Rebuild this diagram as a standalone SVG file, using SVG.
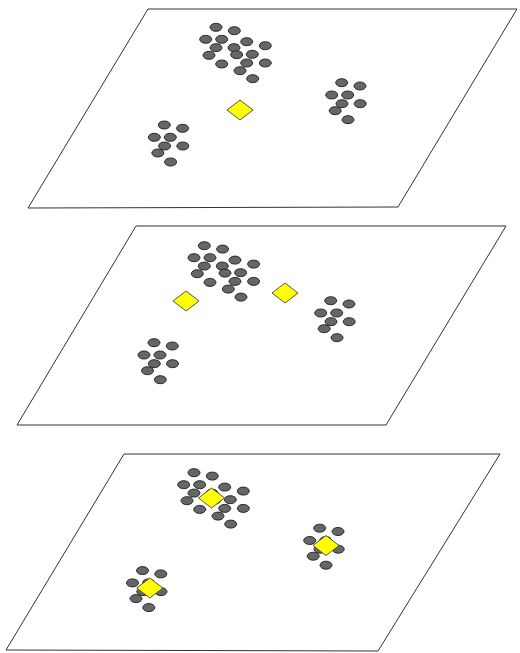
<svg xmlns="http://www.w3.org/2000/svg" xmlns:xlink="http://www.w3.org/1999/xlink" width="520" height="653" viewBox="0 0 520 653">
  <style>
    .plane { fill: #ffffff; stroke: #333333; stroke-width: 1; }
    .dot { fill: #666666; stroke: #2a2a2a; stroke-width: 1; }
    .hub { fill: #ffff00; stroke: #555555; stroke-width: 1; }
  </style>
  <defs>
    <!-- large cluster, 16 points -->
    <g id="clusterLarge">
      <ellipse class="dot" cx="216" cy="27.3" rx="6" ry="4"/>
      <ellipse class="dot" cx="234.3" cy="30.7" rx="6" ry="4"/>
      <ellipse class="dot" cx="205.7" cy="39.3" rx="6" ry="4"/>
      <ellipse class="dot" cx="221.7" cy="39.3" rx="6" ry="4"/>
      <ellipse class="dot" cx="246.7" cy="41.7" rx="6" ry="4"/>
      <ellipse class="dot" cx="265.3" cy="45.7" rx="6" ry="4"/>
      <ellipse class="dot" cx="216" cy="47.7" rx="6" ry="4"/>
      <ellipse class="dot" cx="234" cy="47.7" rx="6" ry="4"/>
      <ellipse class="dot" cx="209" cy="55.3" rx="6" ry="4"/>
      <ellipse class="dot" cx="236.7" cy="54.7" rx="6" ry="4"/>
      <ellipse class="dot" cx="252.3" cy="54.3" rx="6" ry="4"/>
      <ellipse class="dot" cx="246.7" cy="63" rx="6" ry="4"/>
      <ellipse class="dot" cx="265.3" cy="63" rx="6" ry="4"/>
      <ellipse class="dot" cx="221.7" cy="64" rx="6" ry="4"/>
      <ellipse class="dot" cx="240" cy="70.7" rx="6" ry="4"/>
      <ellipse class="dot" cx="252.7" cy="78.7" rx="6" ry="4"/>
    </g>
    <!-- small cluster, 8 points, origin at its top point -->
    <g id="clusterSmall">
      <ellipse class="dot" cx="0" cy="0" rx="6" ry="4"/>
      <ellipse class="dot" cx="18.3" cy="3.3" rx="6" ry="4"/>
      <ellipse class="dot" cx="-10" cy="12.3" rx="6" ry="4"/>
      <ellipse class="dot" cx="6" cy="12.3" rx="6" ry="4"/>
      <ellipse class="dot" cx="0.3" cy="21" rx="6" ry="4"/>
      <ellipse class="dot" cx="18.5" cy="21" rx="6" ry="4"/>
      <ellipse class="dot" cx="-6.5" cy="28" rx="6" ry="4"/>
      <ellipse class="dot" cx="6.3" cy="37" rx="6" ry="4"/>
    </g>
    <!-- centroid marker -->
    <polygon id="diamond" class="hub" points="0,-10 13,0 0,10 -13,0"/>
  </defs>

  <!-- layer 1 -->
  <g id="layer1">
    <polygon class="plane" points="148,9 517,9 398,207 28,208"/>
    <use xlink:href="#clusterLarge"/>
    <use xlink:href="#clusterSmall" x="341.7" y="82.7"/>
    <use xlink:href="#clusterSmall" x="164.3" y="125"/>
    <use xlink:href="#diamond" x="240" y="110"/>
  </g>

  <!-- layer 2 -->
  <g id="layer2">
    <polygon class="plane" points="136,226 506,226 386,425 17,425"/>
    <use xlink:href="#clusterLarge" x="-11.7" y="218.4"/>
    <use xlink:href="#clusterSmall" x="330.7" y="300.7"/>
    <use xlink:href="#clusterSmall" x="154" y="342.7"/>
    <use xlink:href="#diamond" x="186" y="301"/>
    <use xlink:href="#diamond" x="285" y="293"/>
  </g>

  <!-- layer 3 -->
  <g id="layer3">
    <polygon class="plane" points="124,454 500,454 378,651 6,650"/>
    <use xlink:href="#clusterLarge" x="-22" y="445.4"/>
    <use xlink:href="#clusterSmall" x="319.7" y="528.2"/>
    <use xlink:href="#clusterSmall" x="142.5" y="570.6"/>
    <use xlink:href="#diamond" x="211.5" y="498"/>
    <use xlink:href="#diamond" x="326" y="545.5"/>
    <use xlink:href="#diamond" x="149.8" y="588"/>
  </g>
</svg>
